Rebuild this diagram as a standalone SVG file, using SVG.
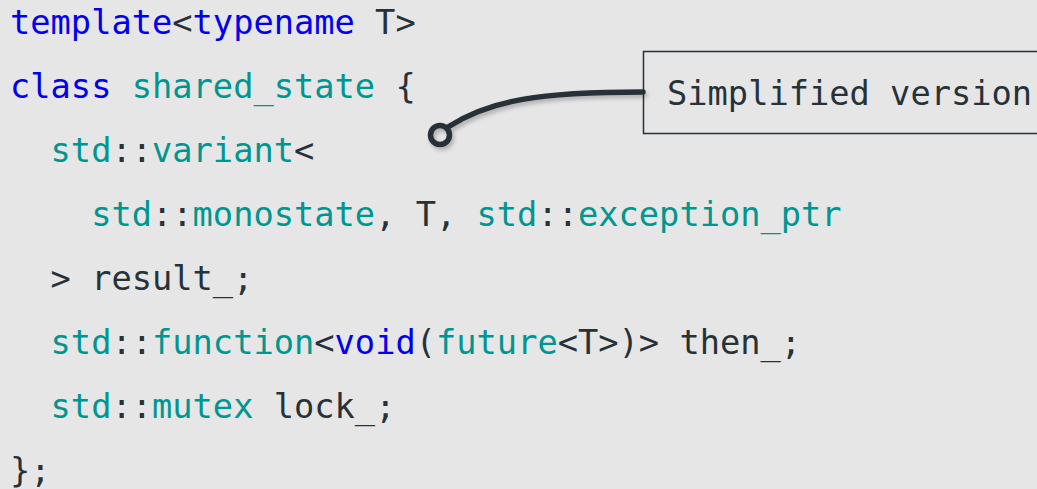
<svg xmlns="http://www.w3.org/2000/svg" width="1037" height="489" viewBox="0 0 1037 489">
  <style>
    .code { font-family: "DejaVu Sans Mono", "Liberation Mono", monospace; font-size: 33.7px; fill: #263238; white-space: pre; }
    .kw { fill: #0000ee; }
    .ty { fill: #00968f; }
  </style>
  <defs>
    <filter id="soft-shadow" x="-20%" y="-50%" width="140%" height="200%">
      <feGaussianBlur in="SourceAlpha" stdDeviation="2"/>
      <feOffset dx="2" dy="3" result="blur"/>
      <feComponentTransfer><feFuncA type="linear" slope="0.25"/></feComponentTransfer>
      <feMerge><feMergeNode/><feMergeNode in="SourceGraphic"/></feMerge>
    </filter>
  </defs>

  <rect width="1037" height="489" fill="#e6e6e6"/>

  <!-- class listing -->
  <g id="code">
    <text class="code" x="10" y="34"><tspan class="kw">template</tspan>&lt;<tspan class="kw">typename</tspan> T&gt;</text>
    <text class="code" x="10" y="98"><tspan class="kw">class</tspan> <tspan class="ty">shared_state</tspan> {</text>
    <text class="code" x="10" y="162">  <tspan class="ty">std</tspan>::<tspan class="ty">variant</tspan>&lt;</text>
    <text class="code" x="10" y="226">    <tspan class="ty">std</tspan>::<tspan class="ty">monostate</tspan>, T, <tspan class="ty">std</tspan>::<tspan class="ty">exception_ptr</tspan></text>
    <text class="code" x="10" y="290">  &gt; result_;</text>
    <text class="code" x="10" y="354">  <tspan class="ty">std</tspan>::<tspan class="ty">function</tspan>&lt;<tspan class="kw">void</tspan>(<tspan class="ty">future</tspan>&lt;T&gt;)&gt; then_;</text>
    <text class="code" x="10" y="418">  <tspan class="ty">std</tspan>::<tspan class="ty">mutex</tspan> lock_;</text>
    <text class="code" x="10" y="482">};</text>
  </g>

  <!-- callout box -->
  <g id="callout">
    <rect x="643.5" y="51.5" width="420" height="82" fill="#e6e6e6" stroke="#263238" stroke-width="1.5"/>
    <text class="code" x="667" y="105">Simplified version</text>
  </g>

  <!-- leader from callout to the class -->
  <g id="connectors" filter="url(#soft-shadow)">
    <path d="M 643 92 C 540 92, 490 100, 448 127" fill="none" stroke="#263238" stroke-width="5.5" stroke-linecap="round"/>
    <circle cx="440" cy="135" r="9.5" fill="none" stroke="#263238" stroke-width="5.5"/>
  </g>
</svg>
